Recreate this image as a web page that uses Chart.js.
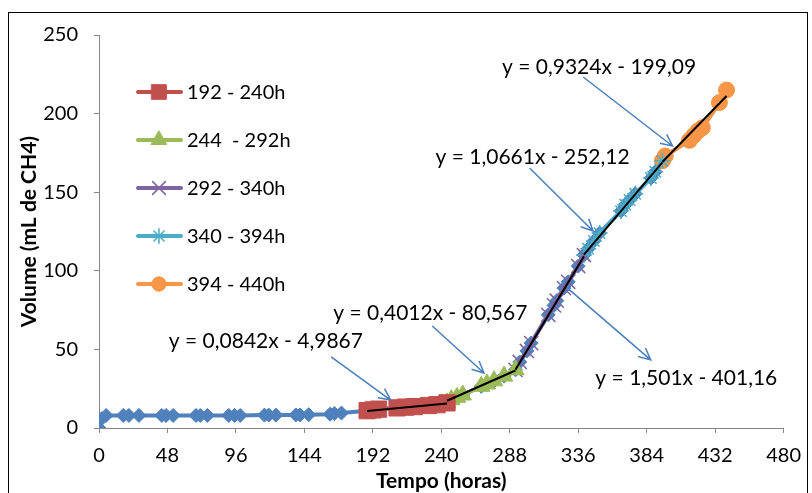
<!DOCTYPE html>
<html>
<head>
<meta charset="utf-8">
<script src="https://cdn.jsdelivr.net/npm/chart.js@4.4.1/dist/chart.umd.min.js"></script>
<style>
    html, body { margin: 0; padding: 0; background: #fff; }
</style>
</head>
<body>
<canvas id="grafico" width="812" height="493"></canvas>
<script>
// tempo de incubação (h) e volume acumulado de metano (mL)
const horas = [
    0, 2, 5, 17, 21, 28, 44, 47, 52, 68, 71, 76, 91, 95, 99, 116, 119, 124,
    138, 141, 147, 162, 165, 170,
    188, 192, 196, 209, 215, 221, 231, 237, 244,
    247, 251, 255, 268, 272, 277, 284, 292,
    295, 300, 303, 315, 319, 321, 326, 329, 336, 340,
    343, 347, 351, 366, 369, 372, 376, 387, 390, 395,
    397, 414, 417, 420, 423, 435, 440
];
const volume = [
    0, 6, 8, 8, 8, 8, 8, 8, 8, 8, 8, 8, 8, 8, 8, 8.2, 8.2, 8.2,
    8.3, 8.3, 8.5, 8.8, 9.2, 9.5,
    11, 11.5, 12, 12.8, 13.3, 13.6, 14.3, 14.8, 16,
    18, 19.5, 21, 26.5, 28, 30, 33, 37,
    42, 49, 54, 72, 78, 81, 89, 93, 103, 110,
    114, 119, 124, 138, 142, 145, 149, 159, 163, 170,
    173, 183, 186, 189, 191, 207, 215
];

// faixas com ajuste linear
const faixaInicio = [188, 244, 292, 340, 395];
const faixaFim = [244, 292, 340, 395, 440];
const faixaRotulo = ['192 - 240h', '244  - 292h', '292 - 340h', '340 - 394h', '394 - 440h'];
const inclinacao = [0.0842, 0.4012, 1.501, 1.0661, 0.9324];
const intercepto = [-4.9867, -80.567, -401.16, -252.12, -199.09];

const yTicks = [0, 50, 100, 150, 200, 250];
const xTicks = [0, 48, 96, 144, 192, 240, 288, 336, 384, 432, 480];

const cores = ['#C0504D', '#9BBB59', '#8064A2', '#4BACC6', '#F79646'];
const marcadores = ['rect', 'triangle', 'crossRot', 'star', 'circle'];
const raios = [11.5, 10, 10, 8, 8];
const bordas = [1, 1, 1.5, 1.5, 1];

const fonte = 'Lato, "Open Sans", sans-serif';

// onde ficam as equações e as setas (em unidades dos eixos)
const equacoes = [
    { texto: [117, 55.3], de: [162.8, 45.2], ate: [204.5, 17.8] },
    { texto: [232.3, 73.2], de: [233.7, 64.9], ate: [269.9, 35] },
    { texto: [304, 172.4], de: [301.9, 165.4], ate: [346.4, 125.3] },
    { texto: [350.6, 229.6], de: [339.5, 223.3], ate: [402.1, 179.4] },
    { texto: [411.8, 31.8], de: [328.3, 89.1], ate: [386.8, 43.3] }
];
const ordemEq = [0, 1, 3, 4, 2];

function pontos(a, b) {
    const out = [];
    horas.forEach((h, i) => {
        if (h >= a && h <= b) out.push({ x: h, y: volume[i] });
    });
    return out;
}

function num(v) {
    return String(v).replace('.', ',');
}

const datasets = [];

// retas de tendência por cima de tudo
inclinacao.forEach((m, i) => {
    const b = intercepto[i];
    datasets.push({
        data: [
            { x: faixaInicio[i], y: m * faixaInicio[i] + b },
            { x: faixaFim[i], y: m * faixaFim[i] + b }
        ],
        borderColor: '#000',
        borderWidth: 2,
        pointRadius: 0,
        showLine: true,
        order: 0
    });
});

faixaRotulo.forEach((rot, i) => {
    datasets.push({
        label: rot,
        data: pontos(faixaInicio[i], faixaFim[i]),
        borderColor: cores[i],
        backgroundColor: cores[i],
        borderWidth: 4,
        pointStyle: marcadores[i],
        pointRadius: raios[i],
        pointBorderWidth: bordas[i],
        pointBackgroundColor: cores[i],
        pointBorderColor: cores[i],
        showLine: true,
        order: 1
    });
});

// série completa, embaixo
datasets.push({
    label: 'total',
    data: pontos(0, 480),
    borderColor: '#4F81BD',
    backgroundColor: '#4F81BD',
    borderWidth: 4,
    pointStyle: 'rectRot',
    pointRadius: 7,
    pointBorderWidth: 1,
    pointBackgroundColor: '#4F81BD',
    pointBorderColor: '#4F81BD',
    showLine: true,
    order: 2
});

const moldura = {
    id: 'moldura',
    beforeDraw(chart) {
        const ctx = chart.ctx;
        ctx.save();
        ctx.fillStyle = '#fff';
        ctx.fillRect(0, 0, chart.width, chart.height);
        ctx.strokeStyle = '#000';
        ctx.lineWidth = 1;
        ctx.strokeRect(8.5, 12.5, 799, 500);
        ctx.restore();
    }
};

const legenda = {
    id: 'legenda',
    afterDraw(chart) {
        const ctx = chart.ctx;
        faixaRotulo.forEach((rot, i) => {
            const y = 92 + i * 48;
            ctx.save();
            ctx.strokeStyle = cores[i];
            ctx.fillStyle = cores[i];
            ctx.lineWidth = 4;
            ctx.lineCap = 'round';
            ctx.beginPath();
            ctx.moveTo(138, y);
            ctx.lineTo(181, y);
            ctx.stroke();
            ctx.lineWidth = bordas[i];
            Chart.helpers.drawPoint(ctx, {
                pointStyle: marcadores[i],
                radius: raios[i] * 0.9,
                borderWidth: bordas[i],
                rotation: 0
            }, 159, y);
            ctx.fillStyle = '#000';
            ctx.font = '20px ' + fonte;
            ctx.textBaseline = 'middle';
            ctx.fillText(rot, 187, y + 1);
            ctx.restore();
        });
    }
};

function seta(ctx, x1, y1, x2, y2) {
    const ang = Math.atan2(y2 - y1, x2 - x1);
    const L = 13, abre = 0.45;
    ctx.beginPath();
    ctx.moveTo(x1, y1);
    ctx.lineTo(x2, y2);
    ctx.moveTo(x2 - L * Math.cos(ang - abre), y2 - L * Math.sin(ang - abre));
    ctx.lineTo(x2, y2);
    ctx.lineTo(x2 - L * Math.cos(ang + abre), y2 - L * Math.sin(ang + abre));
    ctx.stroke();
}

const rotulosEq = {
    id: 'rotulosEq',
    afterDraw(chart) {
        const ctx = chart.ctx;
        const sx = chart.scales.x, sy = chart.scales.y;
        ctx.save();
        ctx.strokeStyle = '#4A7EBB';
        ctx.lineWidth = 1.5;
        ctx.font = '21px ' + fonte;
        ctx.fillStyle = '#000';
        ctx.textAlign = 'center';
        ctx.textBaseline = 'middle';
        equacoes.forEach((e, k) => {
            const i = ordemEq[k];
            seta(ctx,
                sx.getPixelForValue(e.de[0]), sy.getPixelForValue(e.de[1]),
                sx.getPixelForValue(e.ate[0]), sy.getPixelForValue(e.ate[1]));
            const txt = 'y = ' + num(inclinacao[i]) + 'x - ' + num(-intercepto[i]);
            ctx.fillText(txt, sx.getPixelForValue(e.texto[0]), sy.getPixelForValue(e.texto[1]));
        });
        ctx.restore();
    }
};

new Chart(document.getElementById('grafico'), {
    type: 'scatter',
    data: { datasets },
    options: {
        responsive: false,
        animation: false,
        layout: { padding: { top: 35, right: 23, bottom: 0, left: 0 } },
        plugins: {
            legend: { display: false },
            tooltip: { enabled: false }
        },
        scales: {
            x: {
                type: 'linear',
                min: 0,
                max: 480,
                afterBuildTicks: s => { s.ticks = xTicks.map(v => ({ value: v })); },
                afterFit: s => { s.height = 65; },
                ticks: { color: '#000', font: { family: fonte, size: 20 }, padding: 11 },
                grid: { drawOnChartArea: false, drawTicks: true, tickLength: 5, color: '#868686' },
                border: { color: '#868686', width: 1 },
                title: {
                    display: true,
                    text: 'Tempo (horas)',
                    color: '#000',
                    font: { family: fonte, size: 21, weight: 'bold' },
                    padding: { top: 0, bottom: -1 }
                }
            },
            y: {
                min: 0,
                max: 250,
                afterBuildTicks: s => { s.ticks = yTicks.map(v => ({ value: v })); },
                afterFit: s => { s.width = 99; },
                ticks: { color: '#000', font: { family: fonte, size: 20 }, padding: 16 },
                grid: { drawOnChartArea: false, drawTicks: true, tickLength: 5, color: '#868686' },
                border: { color: '#868686', width: 1 },
                title: {
                    display: true,
                    text: 'Volume (mL de CH4)',
                    color: '#000',
                    font: { family: fonte, size: 21, weight: 'bold' },
                    padding: { top: 17, bottom: 0 }
                }
            }
        }
    },
    plugins: [moldura, legenda, rotulosEq]
});
</script>
</body>
</html>
